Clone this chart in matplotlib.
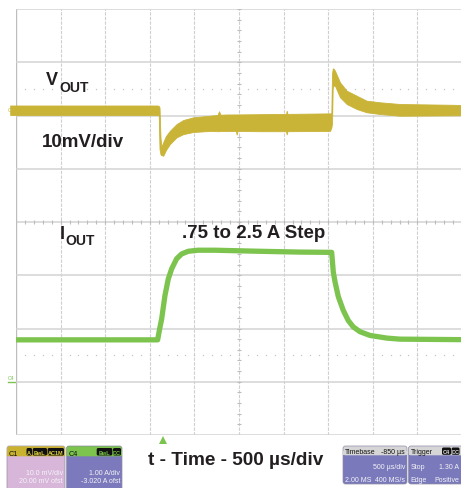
import matplotlib
matplotlib.use('Agg')
import matplotlib.pyplot as plt
from matplotlib.patches import FancyBboxPatch, Rectangle
import numpy as np

W, H = 461, 489

# ---------------- data ----------------
time_per_div_us = 500
t_left_us = -1650            # time at left edge of graticule (delay -850 us)
vout_scale_mv = 10.0
vout_offset_mv = 20.0
iout_scale_a = 1.0
iout_offset_a = -3.02

# VOUT noise envelope (mV) vs time (us)
vout_t = [-1715, -64, -50, -41, -30, -19, 1, 31, 76, 151, 225, 337, 525, 610,
          626, 642, 712, 815, 824, 833, 1085, 1377, 1385, 1393, 1870, 1885,
          1893, 1900, 1907, 1926, 1982, 2057, 2169, 2281, 2430, 2655, 3400]
vout_hi = [1.88, 1.88, 1.80, 1.50, -4.20, -5.90, -4.98, -3.85, -2.85, -1.60,
           -0.85, -0.34, -0.04, 0.10, 0.80, 0.15, 0.19, 0.20, 0.20, 0.20,
           0.25, 0.30, 0.90, 0.30, 0.40, 0.40, 7.80, 8.75, 8.86, 8.41, 6.23,
           4.66, 3.72, 2.78, 2.48, 2.16, 1.97]
vout_lo = [0.09, 0.09, 0.10, -6.30, -7.30, -7.45, -7.55, -6.48, -5.35, -4.09,
           -3.50, -3.10, -2.90, -2.95, -2.95, -2.90, -2.90, -2.90, -3.60, -2.90,
           -2.95, -2.95, -3.55, -2.95, -2.90, -2.30, -1.50, 5.00, 5.60, 5.60,
           3.42, 2.16, 1.22, 0.60, 0.28, -0.04, 0.05]

# IOUT (A) vs time (us)
iout_t = [-1650, -62, -40, -17, 20, 57, 95, 151, 207, 281, 390, 581, 1085,
          1534, 1889, 1907, 1926, 1963, 2019, 2075, 2131, 2206, 2318, 2506,
          2655, 3400]
iout_a = [0.807, 0.807, 1.01, 1.20, 1.64, 1.95, 2.14, 2.33, 2.42, 2.47, 2.49,
          2.49, 2.47, 2.455, 2.45, 2.08, 1.90, 1.62, 1.36, 1.17, 1.05, 0.96,
          0.89, 0.84, 0.82, 0.81]

vcol = '#c9b438'
icol = '#7cc44e'
txt = '#231f20'
small_fam = ['Liberation Sans', 'DejaVu Sans']
big_fam = ['Liberation Sans', 'DejaVu Sans']

fig = plt.figure(figsize=(W / 100, H / 100), dpi=100)
fig.patch.set_facecolor('white')

def fx(px):
    return px / W

def fy(py):
    return 1 - py / H

# graticule: 10 x 8 divisions
gl, gt, gdx, gdy = 16, 10, 44.6, 53.25
ax = fig.add_axes([fx(gl), fy(gt + 8 * gdy), 10 * gdx / W, 8 * gdy / H])
ax.set_xlim(t_left_us, t_left_us + 10 * time_per_div_us)
ax.set_ylim(0, 8)
ax.axis('off')

for k in range(11):
    x = t_left_us + k * time_per_div_us
    if k == 0:
        ax.axvline(x, color='#bdbdbd', lw=1.0, zorder=1)
    else:
        ax.axvline(x, color='#cfcfcf', lw=0.8, ls=(0, (3, 1.2)), zorder=1)
for j in range(9):
    ax.axhline(j, color='#d3d3d3', lw=1.1, zorder=1)

minor_t = np.arange(t_left_us, t_left_us + 10 * time_per_div_us + 1, time_per_div_us / 5)
ax.vlines(minor_t, 4 - 0.045, 4 + 0.045, color='#bdbdbd', lw=0.8, zorder=1)
minor_y = np.arange(0, 8.01, 0.2)
half_w = 2.2 / gdx * time_per_div_us
tcen = t_left_us + 5 * time_per_div_us
ax.hlines(minor_y, tcen - half_w, tcen + half_w, color='#bdbdbd', lw=0.8, zorder=1)
for yl in (1.5, 6.5):
    ax.plot(minor_t, np.full_like(minor_t, yl), ls='none', marker='s', ms=0.9,
            mew=0, color='#c4c4c4', zorder=1)

# trigger marker
ax.plot([0], [-0.095], marker='^', ms=5.5, mew=0, color=icol, clip_on=False)

# VOUT trace
axv = ax.twinx()
axv.set_ylim(-vout_offset_mv - 4 * vout_scale_mv, -vout_offset_mv + 4 * vout_scale_mv)
axv.axis('off')
axv.fill_between(vout_t, vout_lo, vout_hi, facecolor=vcol, edgecolor=vcol,
                 lw=0.6, clip_on=False, zorder=3)

# IOUT trace
axi = ax.twinx()
axi.set_ylim(-iout_offset_a - 4 * iout_scale_a, -iout_offset_a + 4 * iout_scale_a)
axi.axis('off')
axi.plot(iout_t, iout_a, color=icol, lw=3.8, solid_joinstyle='round', zorder=3)

# overlay in pixel coordinates for labels and readout boxes
ov = fig.add_axes([0, 0, 1, 1])
ov.set_xlim(0, W)
ov.set_ylim(H, 0)
ov.axis('off')
ov.patch.set_visible(False)

def T(x, y, s, size, bold=True, color=txt, ha='left', va='baseline', fam=big_fam):
    ov.text(x, y, s, fontsize=size, fontweight='bold' if bold else 'normal',
            color=color, ha=ha, va=va, family=fam)

T(45.5, 85, 'V', 13)
T(59, 92, 'OUT', 10)
T(41.5, 147, '10mV/div', 13.5)
T(59.5, 239, 'I', 13)
T(65, 245, 'OUT', 10)
T(181.5, 238.5, '.75 to 2.5 A Step', 13.5)
T(148, 465, 't - Time - 500 \u00b5s/div', 13.7)

# channel markers
T(8, 112, 'C1', 3.8, bold=False, color=vcol, fam=small_fam)
T(8, 380, 'C4', 3.8, bold=False, color=icol, fam=small_fam)
ov.plot([8, 15], [383, 383], color=icol, lw=1)

def box(x0, x1, y0, y1, hh, hcol, bcol):
    ov.add_patch(FancyBboxPatch((x0, y0), x1 - x0, y1 - y0,
                                boxstyle='round,pad=0,rounding_size=2.5',
                                facecolor=bcol, edgecolor='#8f8f9f', lw=0.5))
    ov.add_patch(FancyBboxPatch((x0 + 0.3, y0 + 0.3), x1 - x0 - 0.6, hh,
                                boxstyle='round,pad=0,rounding_size=2.2',
                                facecolor=hcol, edgecolor='none'))
    ov.add_patch(Rectangle((x0 + 0.3, y0 + hh / 2), x1 - x0 - 0.6, hh / 2 + 0.3,
                           facecolor=hcol, edgecolor='none'))

def badge(x0, x1, y0, y1, s, col):
    ov.add_patch(FancyBboxPatch((x0, y0), x1 - x0, y1 - y0,
                                boxstyle='round,pad=0,rounding_size=1.5',
                                facecolor='#111111', edgecolor='none'))
    ov.text((x0 + x1) / 2, (y0 + y1) / 2 + 0.3, s, fontsize=4.0, fontweight='bold',
            color=col, ha='center', va='center', family=small_fam)

wt = '#f4f4f8'
bs = 5.0
# C1
box(7, 65, 447, 495, 10, '#c9b22f', '#d8b6da')
T(9, 455.5, 'C1', 5.2, bold=False, color='#111111', fam=small_fam)
badge(26.5, 32, 449, 456.5, 'A', '#e4d040')
badge(32.7, 47, 449, 456.5, 'BwL', '#e4d040')
badge(47.6, 64, 449, 456.5, 'AC1M', '#e4d040')
T(63, 475, '10.0 mV/div', bs, bold=False, color=wt, ha='right', fam=small_fam)
T(63, 483, '20.00 mV ofst', bs, bold=False, color=wt, ha='right', fam=small_fam)
# C4
box(66.5, 122, 447, 495, 10, '#7cc44e', '#7c7abc')
T(68.5, 455.5, 'C4', 5.2, bold=False, color='#111111', fam=small_fam)
badge(96.7, 112.3, 449, 456.5, 'BwL', '#7cc44e')
badge(113, 121, 449, 456.5, 'DC', '#7cc44e')
T(120, 475, '1.00 A/div', bs, bold=False, color=wt, ha='right', fam=small_fam)
T(120, 483, '-3.020 A ofst', bs, bold=False, color=wt, ha='right', fam=small_fam)
# Timebase
box(343, 407, 447, 485, 9, '#d6d6d6', '#7a79bb')
T(345, 454.5, 'Timebase', bs, bold=False, color='#111111', fam=small_fam)
T(405, 454.5, '-850 \u00b5s', bs, bold=False, color='#111111', ha='right', fam=small_fam)
T(405, 469, '500 \u00b5s/div', bs, bold=False, color=wt, ha='right', fam=small_fam)
T(345, 482, '2.00 MS', bs, bold=False, color=wt, fam=small_fam)
T(405, 482, '400 MS/s', bs, bold=False, color=wt, ha='right', fam=small_fam)
# Trigger
box(408.5, 475, 447, 485, 9, '#d6d6d6', '#7a79bb')
T(410.5, 454.5, 'Trigger', bs, bold=False, color='#111111', fam=small_fam)
badge(442, 451, 448.5, 455.8, 'C4', '#dddddd')
badge(451.6, 459.5, 448.5, 455.8, 'DC', '#dddddd')
T(410.5, 469, 'Stop', bs, bold=False, color=wt, fam=small_fam)
T(459, 469, '1.30 A', bs, bold=False, color=wt, ha='right', fam=small_fam)
T(410.5, 482, 'Edge', bs, bold=False, color=wt, fam=small_fam)
T(459, 482, 'Positive', bs, bold=False, color=wt, ha='right', fam=small_fam)

fig.savefig('out.png', dpi=100, facecolor='white')
